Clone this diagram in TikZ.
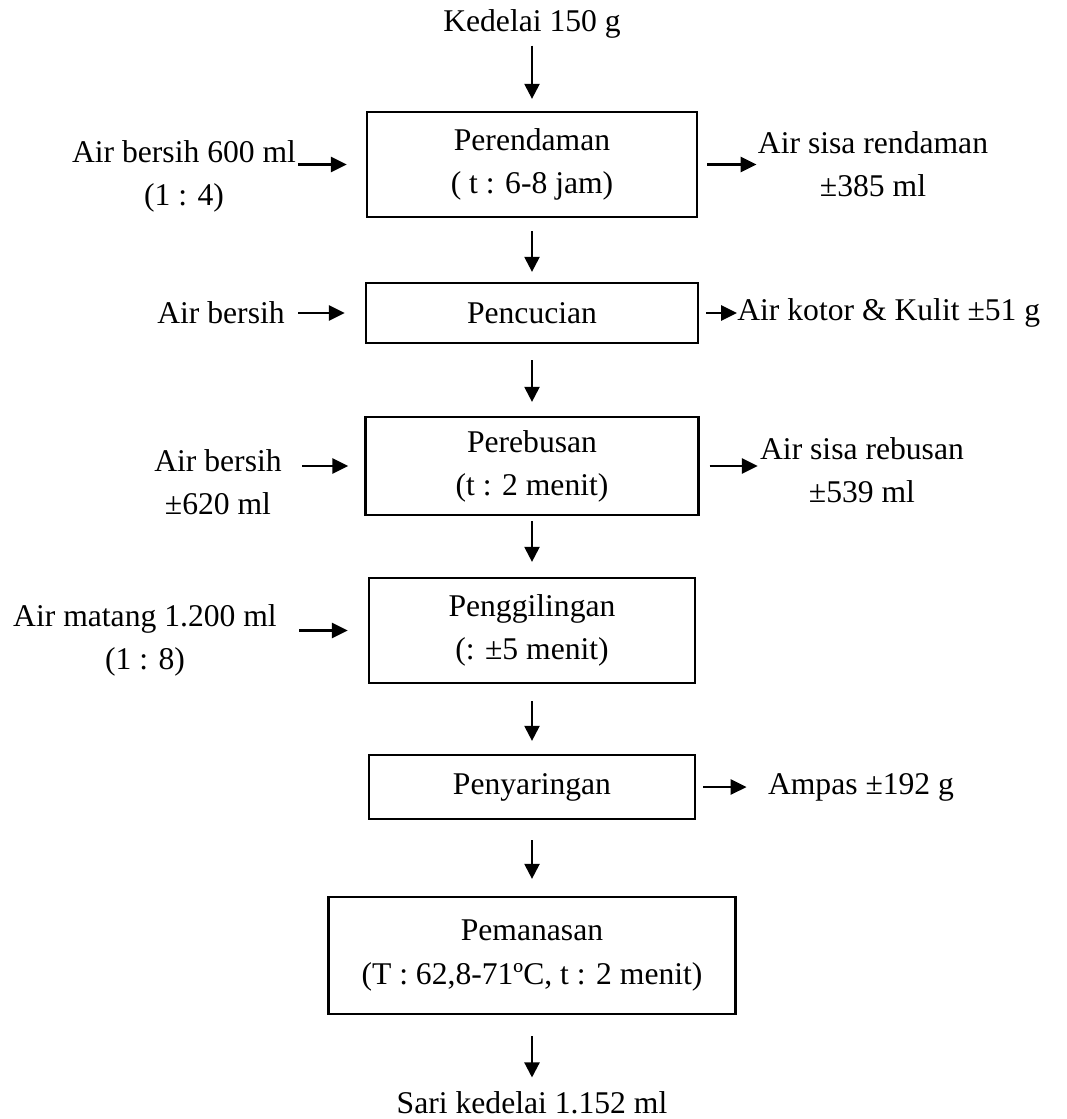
\documentclass[tikz,border=0pt]{standalone}
\usepackage{fontspec}
\setmainfont{Liberation Serif}
\usetikzlibrary{arrows.meta}

\begin{document}
\begin{tikzpicture}[x=0.02cm, y=-0.02cm,
  font=\fontsize{18}{24.5}\selectfont,
  proses/.style={draw, line width=1.3pt, align=center, inner sep=0pt},
  teks/.style={align=center, inner sep=0pt},
  turun/.style={-{Triangle[length=0.3cm, width=0.3cm]}, line width=1.3pt},
  samping/.style={-{Triangle[length=0.32cm, width=0.3cm]}, line width=1.6pt}]
\useasboundingbox (0,0) rectangle (1067,1119);

% alur utama
\node[teks] (kedelai) at (532,24) {Kedelai 150 g};
\node[proses, minimum width=6.6cm, minimum height=2.1cm] (rendam) at (532,164.5) {Perendaman\\( t : 6-8 jam)};
\node[proses, minimum width=6.64cm, minimum height=1.2cm] (cuci) at (532,313) {Pencucian};
\node[proses, minimum width=6.66cm, minimum height=1.96cm] (rebus) at (532,466) {Perebusan\\(t : 2 menit)};
\node[proses, minimum width=6.52cm, minimum height=2.1cm] (giling) at (532,630.5) {Penggilingan\\(: ±5 menit)};
\node[proses, minimum width=6.52cm, minimum height=1.28cm] (saring) at (532,787) {Penyaringan};
\node[proses, minimum width=8.14cm, minimum height=2.34cm] (panas) at (532,955.5) {Pemanasan\\(T : 62,8-71ºC, t : 2 menit)};
\node[teks] (sari) at (532,1103) {Sari kedelai 1.152 ml};

% bahan masuk
\node[teks] (air1) at (184,176) {Air bersih 600 ml\\(1 : 4)};
\node[teks] (air2) at (221,313) {Air bersih};
\node[teks] (air3) at (218,482) {Air bersih\\±620 ml};
\node[teks] (air4) at (145,640) {Air matang 1.200 ml\\(1 : 8)};

% hasil samping
\node[teks] (sisa1) at (873,164) {Air sisa rendaman\\±385 ml};
\node[teks, anchor=west] (sisa2) at (737,313) {Air kotor \& Kulit ±51 g};
\node[teks] (sisa3) at (862,470) {Air sisa rebusan\\±539 ml};
\node[teks] (ampas) at (861,787) {Ampas ±192 g};

\draw[turun, shorten <=0.14cm, shorten >=0.24cm] (kedelai) -- (rendam);
\draw[turun, shorten <=0.26cm, shorten >=0.2cm] (rendam) -- (cuci);
\draw[turun, shorten <=0.32cm, shorten >=0.28cm] (cuci) -- (rebus);
\draw[turun, shorten <=0.1cm, shorten >=0.3cm] (rebus) -- (giling);
\draw[turun, shorten <=0.34cm, shorten >=0.26cm] (giling) -- (saring);
\draw[turun, shorten <=0.4cm, shorten >=0.34cm] (saring) -- (panas);
\draw[turun, shorten <=0.42cm, shorten >=0.28cm] (panas) -- (sari);

\draw[samping, shorten <=0.04cm, shorten >=0.38cm] (air1.east |- rendam) -- (rendam);
\draw[samping, shorten <=0.26cm, shorten >=0.4cm] (air2.east |- cuci) -- (cuci);
\draw[samping, shorten <=0.4cm, shorten >=0.32cm] (air3.east |- rebus) -- (rebus);
\draw[samping, shorten <=0.44cm, shorten >=0.4cm] (air4.east |- giling) -- (giling);

\draw[samping, shorten <=0.18cm, shorten >=0.02cm] (rendam) -- (sisa1.west |- rendam);
\draw[samping, shorten <=0.14cm] (cuci) -- (sisa2.west |- cuci);
\draw[samping, shorten <=0.2cm, shorten >=0.04cm] (rebus) -- (sisa3.west |- rebus);
\draw[samping, shorten <=0.14cm, shorten >=0.42cm] (saring) -- (ampas.west |- saring);
\end{tikzpicture}
\end{document}
